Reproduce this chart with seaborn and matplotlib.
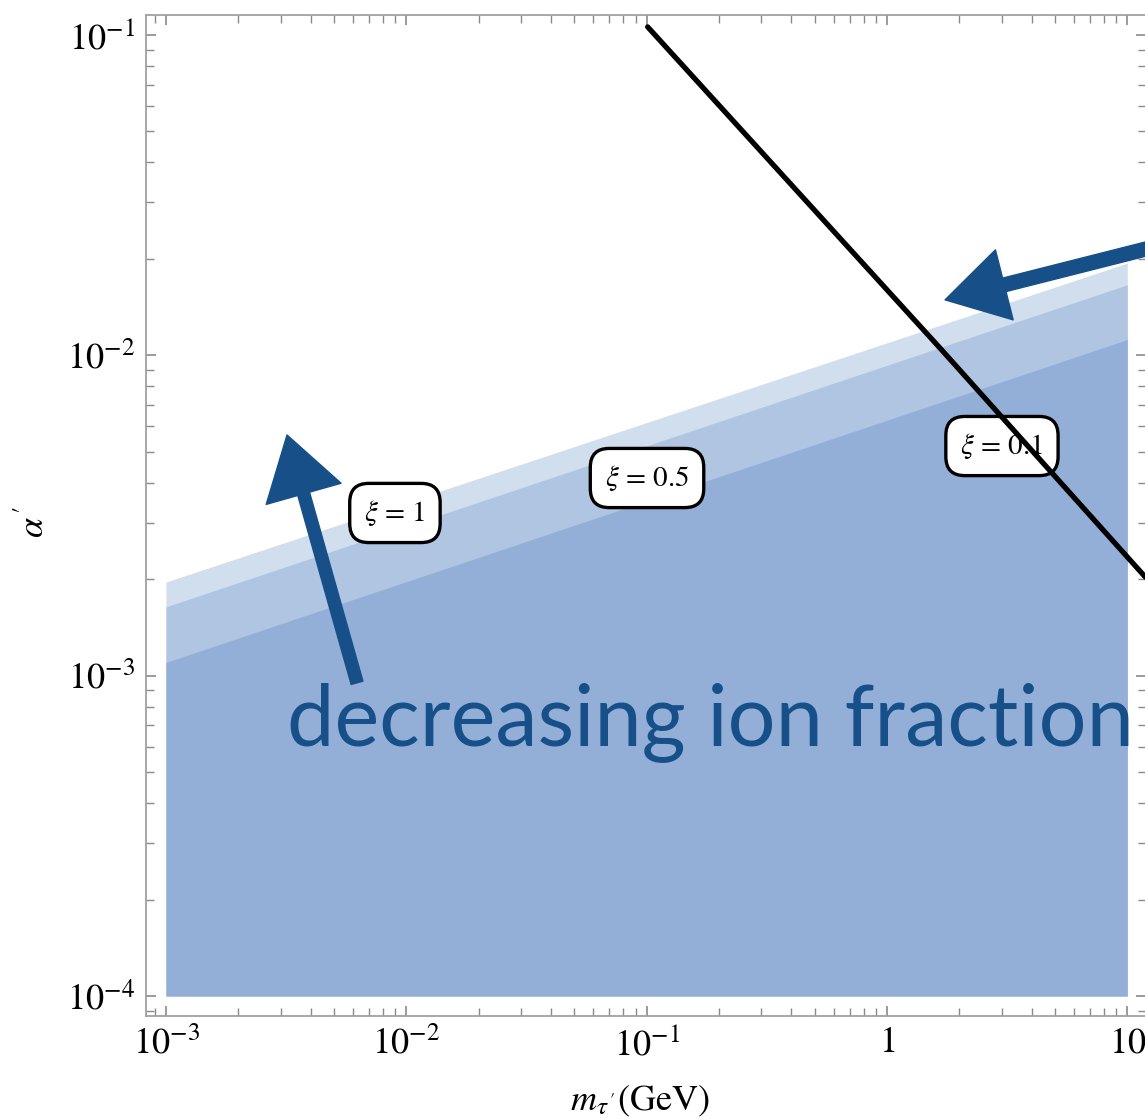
import matplotlib
matplotlib.use("Agg")
import matplotlib.pyplot as plt
import matplotlib.ticker as mticker
from matplotlib.patches import FancyArrowPatch
import numpy as np
import pandas as pd
import seaborn as sns

# Ion-fraction bands: alpha' bound at the two ends of the mass range
xi_values = [1.0, 0.5, 0.1]
xi_labels = [r"$\xi$ = 1", r"$\xi$ = 0.5", r"$\xi$ = 0.1"]
mass_ends = [1e-3, 10.0]
alpha_at_low_mass = [1.96e-3, 1.64e-3, 1.10e-3]
alpha_at_high_mass = [1.94e-2, 1.66e-2, 1.12e-2]
alpha_floor = 1e-4
band_colors = ["#d0deee", "#afc5e1", "#93afd7"]

# Label anchors (mass, alpha') for each band
label_mass = [8.97e-3, 0.1004, 3.01]
label_alpha = [3.22e-3, 4.14e-3, 5.21e-3]

# Black constraint curve
curve_mass = [0.101, 1.66, 11.9]
curve_alpha = [0.106, 0.01055, 0.00203]

# Axis ticks
x_ticks = [1e-3, 1e-2, 1e-1, 1, 10]
x_tick_labels = [r"$10^{-3}$", r"$10^{-2}$", r"$10^{-1}$", r"$1$", r"$10$"]
y_ticks = [1e-4, 1e-3, 1e-2, 1e-1]
y_tick_labels = [r"$10^{-4}$", r"$10^{-3}$", r"$10^{-2}$", r"$10^{-1}$"]

sns.set_theme(style="ticks")
plt.rcParams["font.family"] = ["STIXGeneral", "DejaVu Sans"]
plt.rcParams["mathtext.fontset"] = "stix"

W, H = 1145, 1119
fig = plt.figure(figsize=(W / 100, H / 100), dpi=100)
ax = fig.add_axes([146 / W, 103 / H, 1000.5 / W, 1001 / H])
ax.set_xscale("log")
ax.set_yscale("log")
ax.set_xlim(10 ** -3.083, 10 ** 1.08)
ax.set_ylim(10 ** -4.0624, 10 ** -0.9376)

# Shaded bands, lightest (largest xi) underneath
for lo, hi, col in zip(alpha_at_low_mass, alpha_at_high_mass, band_colors):
    ax.fill_between(mass_ends, [alpha_floor, alpha_floor], [lo, hi],
                    color=col, linewidth=0, zorder=1)

# Band labels in rounded boxes
for lab, mx, ay in zip(xi_labels, label_mass, label_alpha):
    ax.text(mx, ay, lab, ha="center", va="center", fontsize=21, color="black",
            zorder=3,
            bbox=dict(boxstyle="round,pad=0.5,rounding_size=0.65",
                      facecolor="white", edgecolor="black", linewidth=2.4))

# Constraint curve
curve = pd.DataFrame({"m": curve_mass, "alpha": curve_alpha})
sns.lineplot(data=curve, x="m", y="alpha", color="black", linewidth=3.8,
             ax=ax, zorder=4, clip_on=False)

ink = "#175088"
# Upward arrow: decreasing ion fraction raises the bound
up = FancyArrowPatch((6.24e-3, 9.5e-4), (3.19e-3, 5.64e-3),
                     arrowstyle="simple,head_length=1.1,head_width=1.4,tail_width=0.22",
                     mutation_scale=40, color=ink, shrinkA=0, shrinkB=0,
                     zorder=5, clip_on=False, transform=ax.transData)
ax.add_patch(up)
# Arrow pointing at the band edges from the right
left = FancyArrowPatch((15.07, 0.02244), (1.745, 1.49e-2),
                       arrowstyle="simple,head_length=1.1,head_width=1.3,tail_width=0.25",
                       mutation_scale=40, color=ink, shrinkA=0, shrinkB=0,
                       zorder=5, clip_on=False, transform=ax.transData)
ax.add_patch(left)

ax.text(3.19e-3, 6.07e-4, "decreasing ion fraction", ha="left", va="baseline",
        fontsize=61, color=ink, family=["Lato", "DejaVu Sans"], zorder=5)

# Axes styling
for sp in ax.spines.values():
    sp.set_color("#a0a0a0")
    sp.set_linewidth(1.3)
    sp.set_visible(True)

ax.set_xticks(x_ticks)
ax.set_xticklabels(x_tick_labels)
ax.set_yticks(y_ticks)
ax.set_yticklabels(y_tick_labels)
ax.xaxis.set_minor_locator(mticker.LogLocator(base=10, subs=np.arange(2, 10)))
ax.yaxis.set_minor_locator(mticker.LogLocator(base=10, subs=np.arange(2, 10)))
ax.xaxis.set_minor_formatter(mticker.NullFormatter())
ax.yaxis.set_minor_formatter(mticker.NullFormatter())
ax.tick_params(which="both", direction="in", top=True, right=True,
               color="#8a8a8a", labelsize=26, labelcolor="black")
ax.tick_params(which="major", length=7.5, width=1.2, pad=8)
ax.tick_params(which="minor", length=6, width=1.0)

ax.set_xlabel(r"$m_{\tau\,'}$(GeV)", fontsize=26, color="black")
ax.set_ylabel(r"$\alpha\,'$", fontsize=26, color="black", rotation=90)
ax.xaxis.set_label_coords(0.494, -0.068)
ax.yaxis.set_label_coords(-0.094, 0.4935)

fig.savefig("out.png", dpi=100, facecolor="white")
